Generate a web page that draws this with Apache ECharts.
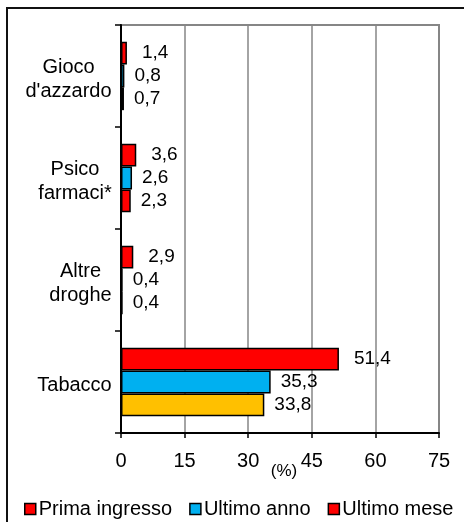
<!DOCTYPE html>
<html>
<head>
<meta charset="utf-8">
<script src="https://cdn.jsdelivr.net/npm/echarts@6/dist/echarts.min.js"></script>
<style>
  html, body { margin: 0; padding: 0; background: #fff; }
  #chart { width: 464px; height: 522px; }
</style>
</head>
<body>
<div id="chart"></div>
<script>
// Categories (top to bottom) and the three series, in percent
const categories = ["Gioco\nd'azzardo", "Psico\nfarmaci*", "Altre\ndroghe", "Tabacco"];
const seriesNames = ["Prima ingresso", "Ultimo anno", "Ultimo mese"];
const primaIngresso = [1.4, 3.6, 2.9, 51.4];
const ultimoAnno = [0.8, 2.6, 0.4, 35.3];
const ultimoMese = [0.7, 2.3, 0.4, 33.8];
const xTicks = [0, 15, 30, 45, 60, 75];

const FONT = '"Liberation Sans", Arial, sans-serif';
const RED = '#FF0000';
const BLUE = '#00B0F0';
const ORANGE = '#FFC000';

// Category labels: each block right-aligned to the axis, its lines centred on each other
const measureCtx = document.createElement('canvas').getContext('2d');
measureCtx.font = '20px ' + FONT;
const catRich = {};
categories.forEach(function (c, i) {
  const w = Math.max.apply(null, c.split('\n').map(function (l) { return measureCtx.measureText(l).width; }));
  catRich['c' + i] = {
    width: Math.ceil(w), align: 'center',
    fontSize: 20, lineHeight: 24, color: '#000', fontFamily: FONT
  };
});
const catFormatter = function (value, index) {
  return value.split('\n').map(function (l) { return '{c' + index + '|' + l + '}'; }).join('\n');
};

// Tabacco's last-month bar is drawn in orange
const ultimoMeseData = ultimoMese.map(function (v, i) {
  return categories[i] === 'Tabacco' ? { value: v, itemStyle: { color: ORANGE } } : v;
});

const fmt = function (p) { return String(p.value).replace('.', ','); };

const chart = echarts.init(document.getElementById('chart'), null, { renderer: 'canvas' });
chart.setOption({
  animation: false,
  backgroundColor: '#fff',
  textStyle: { fontFamily: FONT },
  graphic: [{
    type: 'rect',
    shape: { x: 7, y: 8, width: 600, height: 600 },
    style: { fill: 'none', stroke: '#111', lineWidth: 2 },
    silent: true
  }],
  grid: {
    left: 121, right: 25, top: 25, bottom: 89,
    containLabel: false, outerBoundsMode: 'none',
    show: true, borderColor: '#868686', borderWidth: 2, backgroundColor: 'transparent'
  },
  legend: {
    data: seriesNames,
    left: 19, top: 494,
    itemWidth: 11, itemHeight: 11, itemGap: 17,
    icon: 'rect',
    itemStyle: { borderColor: '#000', borderWidth: 1.5 },
    textStyle: { fontSize: 20, color: '#000', fontFamily: FONT, padding: [0, 0, 0, -2] }
  },
  xAxis: {
    type: 'value', min: xTicks[0], max: xTicks[xTicks.length - 1], interval: 15,
    name: '(%)', nameLocation: 'middle', nameGap: 30, nameMoveOverlap: false,
    nameTextStyle: { fontSize: 17, color: '#000', fontFamily: FONT, padding: [0, 0, 0, 8] },
    axisLine: { show: true, lineStyle: { color: '#000', width: 2 } },
    axisTick: { show: true, length: 5, lineStyle: { color: '#000', width: 1.5 } },
    axisLabel: { fontSize: 20, color: '#000', margin: 18, fontFamily: FONT },
    splitLine: { show: true, lineStyle: { color: '#868686', width: 1.5 } }
  },
  yAxis: {
    type: 'category', inverse: true, data: categories,
    axisLine: { show: true, lineStyle: { color: '#000', width: 2 } },
    axisTick: { show: true, length: 6, lineStyle: { color: '#000', width: 1.5 } },
    axisLabel: {
      fontSize: 20, color: '#000', align: 'right', lineHeight: 24, margin: 9,
      padding: [6, 0, 0, 0],
      fontFamily: FONT, formatter: catFormatter, rich: catRich
    },
    splitLine: { show: false }
  },
  series: [
    {
      name: seriesNames[0], type: 'bar', data: primaIngresso,
      barGap: '0%', barCategoryGap: '33%',
      itemStyle: { color: RED, borderColor: '#000', borderWidth: 1.5 },
      label: { show: true, position: 'right', distance: 15, fontSize: 19, color: '#000', formatter: fmt }
    },
    {
      name: seriesNames[1], type: 'bar', data: ultimoAnno,
      barGap: '0%', barCategoryGap: '33%',
      itemStyle: { color: BLUE, borderColor: '#000', borderWidth: 1.5 },
      label: { show: true, position: 'right', distance: 10, fontSize: 19, color: '#000', formatter: fmt }
    },
    {
      name: seriesNames[2], type: 'bar', data: ultimoMeseData,
      barGap: '0%', barCategoryGap: '33%',
      itemStyle: { color: RED, borderColor: '#000', borderWidth: 1.5 },
      label: { show: true, position: 'right', distance: 10, fontSize: 19, color: '#000', formatter: fmt }
    }
  ]
});
</script>
</body>
</html>
